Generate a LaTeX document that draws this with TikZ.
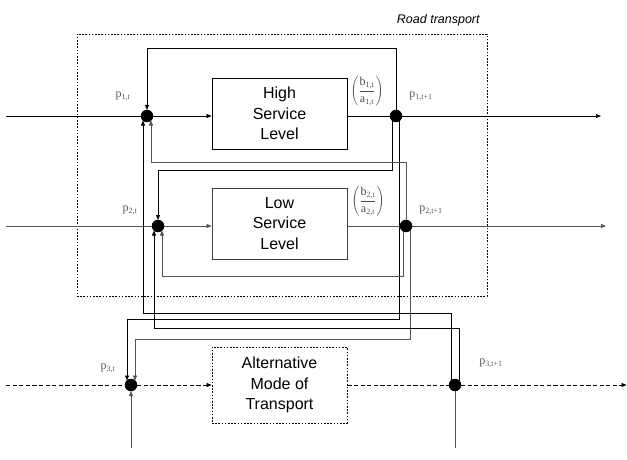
\documentclass[tikz,border=0pt]{standalone}
\usepackage{fontspec}
\setmainfont{Liberation Sans}
\newfontfamily\serifp{Liberation Serif}
\usetikzlibrary{arrows.meta,calc}
\begin{document}
\begin{tikzpicture}[x=1pt,y=-1pt,
  line width=0.7pt,
  arr/.style={-{Triangle[length=5pt,width=4pt]}},
  jdot/.style={circle,fill=black,inner sep=0pt,minimum size=12.5pt},
  proc/.style={draw,line width=0.8pt,minimum width=135pt,minimum height=71pt,align=center,inner sep=0pt,
    font=\fontsize{16}{20.5}\selectfont},
  fine/.style={dash pattern=on 1.6pt off 1.6pt},
  dash3/.style={dash pattern=on 4.2pt off 2.4pt},
  lab/.style={font=\serifp\fontsize{12}{14}\selectfont,text=black!65,inner sep=0pt},
  frac/.style={font=\serifp\fontsize{12}{14}\selectfont,text=black!70,inner sep=0pt},
  g/.style={draw=black!68},
  k/.style={draw=black}
]
\useasboundingbox (0,0) rectangle (627,460);

% outer road transport box
\node[draw,fine,line width=0.7pt,minimum width=410pt,minimum height=262pt,inner sep=0pt] (road) at (282,165) {};
\node[font=\itshape\fontsize{12.5}{14}\selectfont,anchor=east,inner sep=0pt] (roadlab) at (480,20) {Road transport};

% process boxes
\node[proc] (hs) at (279.5,113.5) {High\\Service\\Level};
\node[proc,draw=black!75] (ls) at (279.5,223.5) {Low\\Service\\Level};
\node[proc,fine,minimum height=76pt] (alt) at (279.5,385) {Alternative\\Mode of\\Transport};

% junction coordinates
\coordinate (n1) at (147,116);
\coordinate (o1) at (396,116);
\coordinate (n2) at (158,226);
\coordinate (o2) at (406,226);
\coordinate (n3) at (131,385);
\coordinate (o3) at (455,385);

% free ends
\coordinate (s1) at (6,116);
\coordinate (e1) at (601,116);
\coordinate (s2) at (6,226);
\coordinate (e2) at (606,226);
\coordinate (s3) at (6,385);
\coordinate (e3) at (626.5,385);
\coordinate (b3) at (131,448);
\coordinate (b3o) at (455,448);

% main flows
\draw[k] (s1) -- (n1);
\draw[k,arr] (n1) -- (n1 -| hs.west);
\draw[k] (o1 -| hs.east) -- (o1);
\draw[k,arr] (o1) -- (e1);

\draw[g] (s2) -- (n2);
\draw[g,arr] (n2) -- (n2 -| ls.west);
\draw[g] (o2 -| ls.east) -- (o2);
\draw[g,arr] (o2) -- (e2);

\draw[k,dash3] (s3) -- (n3);
\draw[k,dash3,arr] ($(n3)+(6,0)$) -- (alt.west);
\draw[k,dash3] (alt.east) -- (o3);
\draw[k,dash3,arr] ($(o3)+(6,0)$) -- (e3);

% feedback connectors
\draw[k,arr] (o1) -- ++(0,-68) -| ($(n1)+(0,-6)$);
\draw[k,arr] ($(o1)+(-4,0)$) -- ++(0,54) -| ($(n2)+(0,-6)$);
\draw[k,arr] ($(o1)+(3,0)$) -- ++(0,203) -| ($(n3)+(-4,-4.5)$);

\draw[g,arr] (o2) -- ++(0,-64) -| ($(n1)+(4,4.5)$);
\draw[g,arr] ($(o2)+(-3,0)$) -- ++(0,50) -| ($(n2)+(4,4.5)$);
\draw[g,arr] ($(o2)+(4,0)$) -- ++(0,113) -| ($(n3)+(4,-4.5)$);

\draw[k,arr] ($(o3)+(-4,0)$) -- ++(0,-72) -| ($(n1)+(-4,4.5)$);
\draw[k,arr] ($(o3)+(4,0)$) -- ++(0,-57) -| ($(n2)+(-4,4.5)$);

\draw[g,arr] (b3) -- ($(n3)+(0,6)$);
\draw[g] (o3) -- (b3o);

% junction dots
\node[jdot] (d1) at (n1) {};
\node[jdot] (d2) at (o1) {};
\node[jdot] (d3) at (n2) {};
\node[jdot] (d4) at (o2) {};
\node[jdot] (d5) at (n3) {};
\node[jdot] (d6) at (o3) {};

% labels
\node[lab] (l1) at (123,96) {p\textsubscript{1,t}};
\node[lab] (l2) at (421,96) {p\textsubscript{1,t+1}};
\node[lab] (l3) at (130,210) {p\textsubscript{2,t}};
\node[lab] (l4) at (431,210) {p\textsubscript{2,t+1}};
\node[lab] (l5) at (108,368) {p\textsubscript{3,t}};
\node[lab] (l6) at (491,363) {p\textsubscript{3,t+1}};

\node[frac] (f1) at (367,91) {$\displaystyle\left(\frac{\hbox{b\textsubscript{1,t}}}{\hbox{a\textsubscript{1,t}}}\right)$};
\node[frac] (f2) at (368,201) {$\displaystyle\left(\frac{\hbox{b\textsubscript{2,t}}}{\hbox{a\textsubscript{2,t}}}\right)$};
\end{tikzpicture}
\end{document}
